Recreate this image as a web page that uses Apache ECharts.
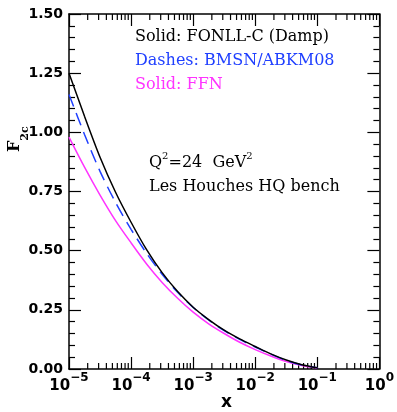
<!DOCTYPE html>
<html><head><meta charset="utf-8">
<script src="https://cdn.jsdelivr.net/npm/echarts@6/dist/echarts.min.js"></script>
<style>html,body{margin:0;padding:0;background:#fff}#c{width:397px;height:412px}</style>
</head><body><div id="c"></div>
<script>
// x values (Bjorken x), quarter-decade sampling
const xVals = [1e-5, 1.778e-5, 3.162e-5, 5.623e-5, 1e-4, 1.778e-4, 3.162e-4, 5.623e-4, 1e-3,
               1.778e-3, 3.162e-3, 5.623e-3, 1e-2, 1.778e-2, 3.162e-2, 5.623e-2, 1e-1];
// F2c curves
const fonll = [1.25, 1.068, 0.895, 0.747, 0.620, 0.504, 0.407, 0.327, 0.261, 0.209, 0.164, 0.127, 0.095, 0.064, 0.038, 0.018, 0.005];
const bmsn  = [1.16, 0.991, 0.835, 0.704, 0.590, 0.489, 0.400, 0.324, 0.260, 0.207, 0.162, 0.125, 0.093, 0.063, 0.036, 0.017, 0.005];
const ffn   = [0.98, 0.853, 0.735, 0.627, 0.533, 0.444, 0.366, 0.299, 0.240, 0.191, 0.150, 0.113, 0.082, 0.055, 0.032, 0.015, 0.004];
// legend / annotation texts
const legendTexts = ['Solid: FONLL-C (Damp)', 'Dashes: BMSN/ABKM08', 'Solid: FFN'];

const minorX = [];
for (let e = -5; e < 0; e++) for (let k = 2; k <= 9; k++) minorX.push([k * Math.pow(10, e), 0]);

const pair = (xs, ys) => xs.map((x, i) => [x, ys[i]]);
const lblFont = 'DejaVu Sans';
const txtFont = 'DejaVu Serif';
const chart = echarts.init(document.getElementById('c'), null, {renderer: 'canvas'});
const axisLineStyle = {color: '#000', width: 1.5};
chart.setOption({
  animation: false,
  grid: {left: 69, right: 11, top: 14, bottom: 43, containLabel: false},
  xAxis: [{
    type: 'log', logBase: 10, min: 1e-5, max: 1, position: 'bottom',
    axisLine: {lineStyle: axisLineStyle, onZero: false},
    axisTick: {inside: true, length: 12, lineStyle: {color: '#000', width: 1.2}},
    splitLine: {show: false},
    axisLabel: {
      margin: 3,
      formatter: v => '{b|10}{s|' + (Math.round(Math.log10(v)) === 0 ? '0' : '\u2212' + (-Math.round(Math.log10(v)))) + '}',
      rich: {
        b: {fontFamily: lblFont, fontWeight: 'bold', fontSize: 15, color: '#000', lineHeight: 22, verticalAlign: 'bottom'},
        s: {fontFamily: lblFont, fontWeight: 'bold', fontSize: 12, color: '#000', lineHeight: 14, verticalAlign: 'top'}
      }
    }
  }, {
    type: 'log', logBase: 10, min: 1e-5, max: 1, position: 'top',
    axisLine: {lineStyle: axisLineStyle, onZero: false},
    axisTick: {inside: true, length: 12, lineStyle: {color: '#000', width: 1.2}},
    axisLabel: {show: false}, splitLine: {show: false}
  }],
  yAxis: [{
    type: 'value', min: 0, max: 1.5, interval: 0.25, position: 'left',
    axisLine: {show: true, lineStyle: axisLineStyle, onZero: false},
    axisTick: {show: true, inside: true, length: 12, lineStyle: {color: '#000', width: 1.2}},
    minorTick: {show: true, splitNumber: 5, length: 6, lineStyle: {color: '#000', width: 1.2}},
    splitLine: {show: false},
    axisLabel: {margin: 6, fontFamily: lblFont, fontWeight: 'bold', fontSize: 14, color: '#000', formatter: v => v.toFixed(2)}
  }, {
    type: 'value', min: 0, max: 1.5, interval: 0.25, position: 'right',
    axisLine: {show: true, lineStyle: axisLineStyle, onZero: false},
    axisTick: {show: true, inside: true, length: 12, lineStyle: {color: '#000', width: 1.2}},
    minorTick: {show: true, splitNumber: 5, length: 6, lineStyle: {color: '#000', width: 1.2}},
    splitLine: {show: false}, axisLabel: {show: false}
  }],
  series: [
    {type: 'custom', xAxisIndex: 0, yAxisIndex: 0, data: minorX, silent: true, z: 1,
     renderItem: (params, api) => {
       const b = api.coord([api.value(0), 0]);
       const t = api.coord([api.value(0), 1.5]);
       const st = {stroke: '#000', lineWidth: 1.2};
       return {type: 'group', children: [
         {type: 'line', shape: {x1: b[0], y1: b[1], x2: b[0], y2: b[1] - 6}, style: st},
         {type: 'line', shape: {x1: t[0], y1: t[1], x2: t[0], y2: t[1] + 6}, style: st}
       ]};
     }},
    {name: 'FFN', type: 'line', data: pair(xVals, ffn), smooth: 0.3, showSymbol: false,
     lineStyle: {color: '#ff33ff', width: 1.5}},
    {name: 'BMSN', type: 'line', data: pair(xVals, bmsn), smooth: 0.3, showSymbol: false,
     lineStyle: {color: '#1f3fff', width: 1.5, type: [13, 7]}},
    {name: 'FONLL', type: 'line', data: pair(xVals, fonll), smooth: 0.3, showSymbol: false,
     lineStyle: {color: '#000', width: 1.5}}
  ],
  graphic: [
    {type: 'text', left: 135, top: 29, style: {text: legendTexts[0], fill: '#000', font: '16px "DejaVu Serif"'}},
    {type: 'text', left: 135, top: 53, style: {text: legendTexts[1], fill: '#1f3fff', font: '16px "DejaVu Serif"'}},
    {type: 'text', left: 135, top: 77, style: {text: legendTexts[2], fill: '#ff33ff', font: '16px "DejaVu Serif"'}},
    {type: 'text', left: 149, top: 151, style: {
      text: '{t|Q}{s|2}{t|=24  GeV}{s|2}', rich: {
        t: {fontFamily: txtFont, fontSize: 16, fill: '#000', lineHeight: 20, verticalAlign: 'bottom'},
        s: {fontFamily: txtFont, fontSize: 10, fill: '#000', lineHeight: 16, verticalAlign: 'top'}
      }}},
    {type: 'text', left: 149, top: 179, style: {text: 'Les Houches HQ bench', fill: '#000', font: '16px "DejaVu Serif"'}},
    {type: 'text', left: 221, top: 394, style: {text: 'x', fill: '#000', font: 'bold 17px "DejaVu Sans"'}},
    {type: 'text', x: 7, y: 152, rotation: Math.PI / 2, style: {
      text: '{f|F}{s|2c}', rich: {
        f: {fontFamily: txtFont, fontWeight: 'bold', fontSize: 16, fill: '#000', lineHeight: 18, verticalAlign: 'top'},
        s: {fontFamily: txtFont, fontWeight: 'bold', fontSize: 11, fill: '#000', lineHeight: 24, verticalAlign: 'bottom'}
      }}}
  ]
});
</script></body></html>
